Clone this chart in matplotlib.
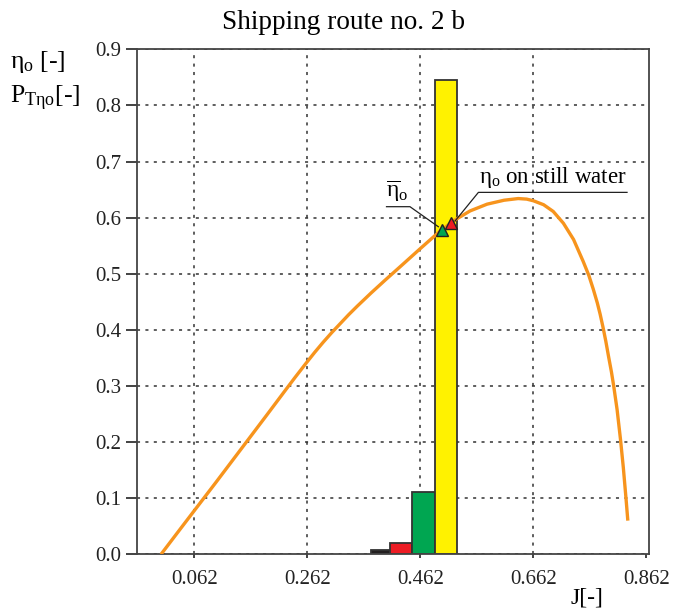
import numpy as np
import matplotlib
matplotlib.use("Agg")
import matplotlib.pyplot as plt

plt.rcParams['font.family'] = ['Liberation Serif', 'DejaVu Serif']
plt.rcParams['mathtext.fontset'] = 'custom'
plt.rcParams['mathtext.rm'] = 'Liberation Serif'
plt.rcParams['mathtext.it'] = 'Liberation Serif'

# efficiency curve eta_o(J)
curve_J = [0.003, 0.040, 0.062, 0.100, 0.154, 0.190, 0.225, 0.240, 0.260, 0.275,
           0.290, 0.305, 0.320, 0.335, 0.350, 0.375, 0.400, 0.430, 0.462, 0.490,
           0.520, 0.550, 0.580, 0.610, 0.635, 0.650, 0.662, 0.680, 0.697, 0.715,
           0.733, 0.750, 0.760, 0.768, 0.775, 0.780, 0.785, 0.790, 0.795, 0.800,
           0.804, 0.810, 0.816, 0.821, 0.826, 0.829]
curve_eta = [0.000, 0.049, 0.078, 0.128, 0.200, 0.248, 0.295, 0.315, 0.341, 0.360,
             0.378, 0.395, 0.411, 0.427, 0.442, 0.466, 0.489, 0.516, 0.545, 0.570,
             0.594, 0.612, 0.624, 0.631, 0.634, 0.633, 0.630, 0.623, 0.611, 0.590,
             0.561, 0.522, 0.497, 0.472, 0.448, 0.428, 0.405, 0.380, 0.352, 0.325,
             0.300, 0.258, 0.205, 0.155, 0.097, 0.060]

# histogram P_T(eta_o)
bin_edges = [0.374, 0.409, 0.447, 0.487, 0.527]
bin_probs = [0.008, 0.021, 0.111, 0.845]
bin_colors = ['#231f20', '#ed1c24', '#00a651', '#fff200']

# markers
mean_pt = (0.501, 0.578)      # mean eta_o
still_pt = (0.516, 0.590)     # eta_o on still water

xticks = [0.062, 0.262, 0.462, 0.662, 0.862]
yticks = [0.0, 0.1, 0.2, 0.3, 0.4, 0.5, 0.6, 0.7, 0.8, 0.9]

fig = plt.figure(figsize=(6.86, 6.10), dpi=100)
ax = fig.add_axes([0.1993, 0.0913, 0.7472, 0.8279])

edges = np.array(bin_edges)
ax.bar(edges[:-1], bin_probs, width=np.diff(edges), align='edge',
       color=bin_colors, edgecolor='#333333', linewidth=1.3, zorder=2)

ax.plot(curve_J, curve_eta, color='#f7941d', linewidth=2.4, zorder=3,
        solid_capstyle='butt', solid_joinstyle='round')

ax.plot([mean_pt[0]], [mean_pt[1]], marker='^', markersize=9, color='#00a651',
        markeredgecolor='#222222', markeredgewidth=1.0, zorder=5, linestyle='none')
ax.plot([still_pt[0]], [still_pt[1]], marker='^', markersize=9, color='#ed1c24',
        markeredgecolor='#222222', markeredgewidth=1.0, zorder=5, linestyle='none')

# leader lines
ax.plot([0.402, 0.4435, 0.4937], [0.6195, 0.6195, 0.5838], color='#222222',
        linewidth=0.9, zorder=4)
ax.plot([0.5233, 0.5646, 0.8276], [0.594, 0.645, 0.645], color='#222222',
        linewidth=0.9, zorder=4)
ax.text(0.421, 0.624, r'$\mathregular{\overline{\eta}_o}$', fontsize=17,
        ha='center', va='bottom')
ax.text(0.566, 0.650, r'$\mathregular{\eta_o}$ on still water', fontsize=16.5,
        ha='left', va='bottom')

ax.set_xlim(-0.040, 0.867)
ax.set_ylim(0.0, 0.9)
ax.set_xticks(xticks)
ax.set_xticklabels(['%.3f' % v for v in xticks])
ax.set_yticks(yticks)
ax.set_yticklabels(['%.1f' % v for v in yticks])
ax.tick_params(axis='both', labelsize=15, colors='#222222', width=1.2)
ax.tick_params(axis='y', length=8, pad=3)
ax.tick_params(axis='x', length=3, pad=8)
ax.grid(True, linestyle=(0, (2, 3.5)), color='#333333', linewidth=1.1)
ax.get_xgridlines()[-1].set_visible(False)
ax.set_axisbelow(True)
for s in ax.spines.values():
    s.set_color('#444444')
    s.set_linewidth(1.3)

fig.text(0.501, 0.963, 'Shipping route no. 2 b', fontsize=19.6, ha='center', va='center')
fig.text(0.015, 0.898, r'$\mathregular{\eta_o}$ [-]', fontsize=18.5, ha='left', va='center')
fig.text(0.015, 0.838, r'$\mathregular{P_{T\eta o}}$[-]', fontsize=18.5, ha='left', va='center')
fig.text(0.856, 0.020, 'J[-]', fontsize=17, ha='center', va='center')

fig.savefig('out.png', dpi=100)
